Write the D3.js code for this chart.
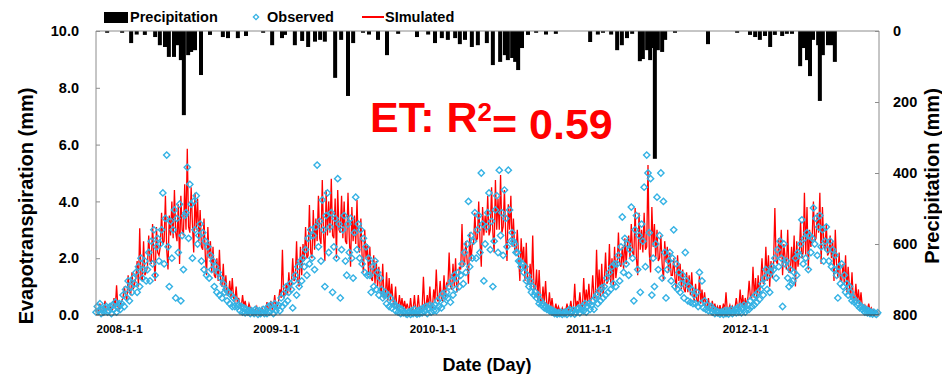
<!DOCTYPE html>
<html>
<head>
<meta charset="utf-8">
<script src="https://cdn.jsdelivr.net/npm/d3@7"></script>
<style>
body { margin: 0; background: #fff; }
svg text { font-family: "Liberation Sans", Arial, sans-serif; font-weight: bold; }
</style>
</head>
<body>
<div id="chart"></div>
<script>
// values, one sample every 3 days from 1 Jan of each year
const years = [2008, 2009, 2010, 2011, 2012];

const sim2008 = [.15,.2,.1,.4,.15,.1,.2,.5,.15,.2, .2,.3,.15,.2,.6,.25,1.05,.3,.2,.4, .5,.6,1.0,.7,.5,1.4,.8,.7,1.5,.9,
  1.1,1.3,1.9,1.0,3.05,1.3,1.2,2.6,1.4,1.5, 1.7,2.8,1.9,1.8,3.2,2.0,1.2,3.1,2.2,2.1, 2.4,3.6,2.5,2.6,4.2,2.3,1.6,3.5,2.8,4.0,
  2.7,4.4,2.9,2.6,3.9,1.8,4.2,3.0,2.8,4.6, 3.0,5.85,3.1,2.9,4.5,3.2,2.2,4.3,3.0,4.1, 2.6,3.7,2.4,2.3,3.4,2.1,1.4,3.1,2.0,2.6,
  1.5,2.4,1.4,1.3,2.0,1.2,2.3,1.1,1.0,1.8, .8,1.4,.7,.7,1.2,.6,1.3,.6,.5,1.0, .4,.6,.35,.3,.7,.3,.5,.25,.2,.4,.25,.2];
const sim2009 = [.15,.1,.2,.3,.1,.15,.1,.25,.15,.1, .2,.45,.2,.25,.5,.2,.3,.7,.25,.3, .5,.9,.6,2.3,.6,.7,1.1,.7,1.5,.8,
  1.1,2.0,1.2,1.3,2.6,1.2,1.0,2.4,1.4,2.5, 1.9,3.1,2.0,2.1,3.87,2.2,2.0,3.7,2.3,3.4, 2.6,4.2,2.7,2.5,4.75,2.8,1.9,4.4,2.8,4.0,
  2.9,4.8,2.8,2.7,4.1,2.0,4.4,3.0,2.9,4.2, 2.7,4.0,2.6,2.5,4.3,2.7,1.7,3.8,2.6,3.5, 2.5,4.05,2.4,2.2,3.4,2.0,1.5,3.0,2.0,2.5,
  1.4,2.4,1.3,1.2,2.1,1.1,1.9,1.0,1.7,1.0, .7,1.8,.6,.6,1.5,.5,1.3,.5,1.1,.5, .3,1.0,.25,.3,.7,.25,.6,.2,.5,.2,.4,.2];
const sim2010 = [.15,.6,.15,.2,.7,.15,.2,.7,.15,.2, .25,1.35,.25,.3,.7,.25,1.0,.3,.25,.9, .5,1.6,.5,.5,1.2,.55,.5,1.4,.6,1.1,
  1.0,2.2,1.0,.9,1.8,1.0,2.0,.8,1.1,1.7, 1.6,3.2,1.7,1.8,2.6,1.9,1.1,2.9,1.9,2.5, 2.5,3.6,2.6,2.7,4.0,2.6,1.7,3.8,2.8,3.5,
  2.9,4.2,2.8,3.0,4.5,2.9,2.2,4.75,3.0,4.1, 3.0,4.93,2.9,3.1,4.4,2.8,1.9,3.9,3.0,4.2, 2.4,3.4,2.3,2.2,3.0,2.1,1.2,2.7,1.9,2.4,
  1.2,2.54,1.1,1.1,1.8,1.0,2.8,.9,.9,1.6, .5,1.58,.5,.4,1.0,.4,1.2,.35,.3,.8, .2,.6,.2,.15,.4,.15,.3,.15,.1,.25,.1,.2];
const sim2011 = [.15,.4,.15,.2,.5,.15,.2,1.1,.2,.5, .3,.8,.3,.3,1.3,.35,.9,.4,1.1,.4, .6,1.4,.6,.6,2.3,.7,1.6,.6,1.8,.7,
  1.2,2.2,1.1,1.2,2.5,1.1,2.0,1.0,2.4,1.3, 1.7,2.9,1.8,1.7,2.4,1.6,2.7,1.8,2.5,2.8, 2.0,3.2,2.2,2.1,3.77,2.0,1.4,3.6,2.3,3.0,
  2.2,3.6,2.3,2.4,5.28,2.2,1.5,3.8,2.4,3.2, 2.0,3.0,1.9,2.0,2.8,1.8,1.2,2.6,1.9,2.4, 1.5,2.2,1.4,1.4,2.0,1.3,.9,2.1,1.2,1.8,
  .9,1.6,.9,.8,1.5,.8,1.4,.7,1.5,.7, .5,1.1,.5,.45,1.4,.4,.9,.35,.8,.3, .25,.6,.2,.2,.5,.2,.4,.15,.3,.15,.35,.15];
const sim2012 = [.15,.4,.15,.8,.15,.2,.35,.15,.3,.15, .25,.6,.25,.25,.9,.3,.7,.25,.6,.3, .6,1.2,.6,.6,1.7,.6,1.3,.5,1.4,.7,
  1.2,2.0,1.1,1.2,2.4,1.2,2.1,1.0,1.9,1.3, 1.8,3.77,1.9,1.8,2.7,2.0,3.0,1.4,2.5,2.0, 1.6,3.0,1.5,1.5,2.4,1.6,2.8,1.0,2.6,1.7,
  2.1,3.3,2.0,2.2,4.3,2.1,3.8,1.6,3.0,2.4, 2.7,4.0,2.6,2.7,3.6,2.9,4.3,1.8,3.8,2.6, 2.3,3.2,2.1,2.2,2.8,2.0,2.6,1.2,3.0,1.8,
  1.3,2.2,1.2,1.2,1.8,1.1,2.1,.8,1.7,1.0, .6,1.5,.5,.5,1.1,.45,.9,.35,.8,.3, .25,.35,.2,.2,.4,.15,.25,.15,.15,.1,.15,.1];

const obs2008 = [.1,.3,.15,.4,.05,.2,.1,.25,.3,.1, .15,.3,.05,.35,.2,.45,.1,.25,.4,.2, .4,.7,.3,.9,.6,1.2,.5,1.0,.8,1.3,
  1.1,1.5,.8,1.7,1.0,2.0,1.3,1.6,1.9,1.2, 1.6,2.2,1.2,2.6,1.8,3.0,1.4,2.4,2.7,1.9, 2.5,3.0,4.3,1.8,3.4,5.63,2.4,1.0,3.3,2.0,
  3.0,3.7,.6,3.4,2.2,3.9,.5,2.8,1.6,3.5, 3.6,5.2,2.7,4.6,3.9,2.0,4.0,3.0,4.2,2.5, 2.8,3.2,1.9,2.9,1.6,2.6,1.4,2.4,1.3,2.1,
  1.6,1.9,1.0,1.7,.8,1.5,.7,1.3,.6,1.1, .8,.9,.5,.8,.4,.7,.3,.6,.3,.5, .3,.35,.15,.3,.1,.25,.08,.2,.1,.15,.05,.15];
const obs2009 = [.1,.05,.2,.15,.02,.15,.05,.1,.2,.05, .15,.05,.3,.1,.35,.2,.05,.4,.15,.3, .35,.15,.6,.3,.75,.4,1.0,.5,.8,1.1,
  .9,.25,1.2,1.4,.7,1.7,1.0,1.9,1.2,2.0, 1.7,2.3,1.4,2.7,1.8,3.0,2.0,2.8,1.6,3.1, 5.28,2.4,3.3,1.9,4.05,3.0,1.0,3.5,4.3,2.2,
  3.1,3.6,.8,2.4,3.4,2.0,4.8,3.2,.6,2.3, 3.0,3.5,1.9,1.4,3.2,2.2,3.4,2.0,1.3,2.9, 4.15,2.3,3.2,2.0,3.0,1.8,2.7,1.5,2.4,1.4,
  2.0,1.4,.8,1.7,1.0,1.9,.9,1.5,.7,1.3, .9,.6,.7,.8,.4,.7,.3,.6,.25,.45, .35,.15,.3,.1,.25,.05,.2,.08,.1,.05,.02,.1];
const obs2010 = [.1,.02,.15,.05,.2,.08,.03,.15,.05,.2, .08,.25,.12,.3,.05,.25,.35,.1,.3,.15, .35,.15,.5,.3,.6,.25,.75,.4,.65,.8,
  .6,1.0,.45,1.2,.7,1.4,.9,1.3,1.5,1.0, 1.4,1.8,1.1,2.2,1.5,2.5,4.0,1.7,2.8,2.0, 2.6,3.6,2.0,3.0,3.5,2.2,5.0,3.2,1.2,2.5,
  3.1,3.6,4.3,2.3,3.3,1.0,2.6,3.7,4.2,2.2, 5.1,2.8,3.6,2.1,4.4,3.4,2.4,5.1,3.7,2.6, 2.9,2.6,2.5,2.2,2.2,1.9,1.9,1.7,1.8,1.5,
  1.7,1.2,1.4,1.0,1.2,.8,1.0,.7,.8,.6, .7,.4,.5,.35,.4,.25,.3,.2,.25,.15, .2,.1,.15,.05,.1,.03,.08,.05,.1,.02,.08,.05];
const obs2011 = [.1,.02,.15,.2,.05,.12,.18,.03,.1,.2, .25,.08,.2,.3,.15,.4,.1,.3,.4,.2, .35,.5,.2,.6,.7,.4,.85,.5,.95,.6,
  1.0,.7,1.3,.8,1.5,.9,1.7,1.1,1.8,1.0, 1.8,2.1,1.2,2.4,3.45,1.5,2.7,1.8,2.5,1.4, 2.3,3.8,2.0,.5,3.0,3.5,1.6,2.8,.8,3.2,
  2.6,4.5,1.7,5.63,5.0,2.9,4.8,.7,2.0,1.0, 2.5,4.15,1.6,2.8,5.0,1.3,4.0,2.2,.6,1.6, 1.9,2.2,1.2,2.0,3.0,1.0,1.8,.9,1.5,.8,
  1.1,1.4,.6,2.2,1.2,.5,1.0,.45,.9,.4, .7,.4,.8,.3,1.5,.4,1.2,.25,.5,.2, .35,.15,.25,.3,.1,.2,.05,.15,.08,.1,.03,.1];
const obs2012 = [.1,.02,.15,.05,.15,.03,.12,.2,.05,.1, .2,.08,.25,.1,.3,.08,.25,.35,.1,.2, .35,.2,.5,.3,.6,.35,.7,.45,.8,.55,
  .9,1.1,.7,1.3,1.6,.9,1.4,.8,1.5,1.7, 1.6,2.0,1.3,2.3,1.7,2.6,2.0,.3,2.5,1.8, 1.9,1.3,1.0,1.6,1.1,1.2,1.5,2.0,1.4,2.2,
  2.1,2.5,3.35,1.8,2.7,2.0,2.9,1.6,2.8,2.2, 2.7,3.77,2.5,3.4,2.1,3.1,3.5,2.4,3.0,1.9, 2.6,3.1,2.3,1.9,2.6,1.7,2.3,1.6,2.1,1.4,
  .6,1.7,1.1,1.8,1.0,1.4,.8,1.1,.7,1.0, .8,.5,.6,.45,.5,.35,.4,.25,.3,.2, .25,.1,.2,.08,.15,.05,.1,.03,.1,.05,.02,.08];

// rain events: day counted from 2008-1-1, depth in mm
const precipDay = [26,61,82,95,114,138,149,161,170,182,191,198,205,215,222,231,245,266,296,308,331,350,
  390,411,434,441,464,481,495,511,523,534,558,572,588,600,623,637,658,679,705,
  749,775,791,807,821,838,849,861,877,891,912,926,943,954,961,971,978,985,994,1008,1027,1050,1073,
  1153,1171,1183,1202,1216,1227,1239,1251,1269,1276,1286,1293,1300,1304,1311,1321,1328,1351,1428,
  1496,1526,1538,1549,1561,1573,1584,1601,1612,1624,1643,1650,1659,1666,1673,1685,1689,1696,1708,1717,1724];
const precipMm = [5,5,34,10,11,17,40,45,73,73,40,82,237,68,59,54,124,11,17,20,20,14,
  5,40,20,11,40,28,45,30,25,30,132,25,183,34,5,10,25,68,8,
  17,10,34,20,25,20,37,25,45,40,34,96,87,68,82,76,87,110,48,11,5,10,8,
  31,10,5,10,54,40,20,8,85,79,54,82,48,360,54,59,25,5,37,
  5,11,17,25,14,45,11,14,8,8,99,48,82,127,25,40,197,68,40,40,87];

const etTicks = [0, 2, 4, 6, 8, 10];
const pTicks = [0, 200, 400, 600, 800];
const dateTicks = ["2008-1-1", "2009-1-1", "2010-1-1", "2011-1-1", "2012-1-1"];

const simulated = [sim2008, sim2009, sim2010, sim2011, sim2012];
const observed = [obs2008, obs2009, obs2010, obs2011, obs2012];

const width = 942, height = 374;
const margin = {top: 31, right: 63, bottom: 59, left: 96};
const start = new Date(2008, 0, 1);

function toSeries(list) {
  const out = [];
  list.forEach((vals, k) => {
    const y0 = new Date(years[k], 0, 1);
    vals.forEach((v, i) => out.push({date: d3.timeDay.offset(y0, i * 3), v: v}));
  });
  return out;
}
const simData = toSeries(simulated);
const obsData = toSeries(observed);
const rain = precipDay.map((d, i) => ({date: d3.timeDay.offset(start, d), mm: precipMm[i]}));

const svg = d3.select("#chart").append("svg")
  .attr("width", width)
  .attr("height", height);

const x = d3.scaleTime()
  .domain([start, new Date(2013, 0, 1)])
  .range([margin.left, width - margin.right]);
const yET = d3.scaleLinear().domain([0, 10]).range([height - margin.bottom, margin.top]);
const yP = d3.scaleLinear().domain([0, 800]).range([margin.top, height - margin.bottom]);

// precipitation bars hanging from the top
svg.append("g").selectAll("rect")
  .data(rain)
  .enter().append("rect")
  .attr("x", d => x(d.date) - 2)
  .attr("y", yP(0))
  .attr("width", 4)
  .attr("height", d => yP(d.mm) - yP(0))
  .attr("fill", "#000");

// simulated ET
const line = d3.line().x(d => x(d.date)).y(d => yET(d.v));
svg.append("path")
  .datum(simData)
  .attr("d", line)
  .attr("fill", "none")
  .attr("stroke", "#ff0000")
  .attr("stroke-width", 1.3);

// observed ET
const diamond = d3.symbol(d3.symbolSquare, 20);
svg.append("g").selectAll("path")
  .data(obsData)
  .enter().append("path")
  .attr("d", diamond)
  .attr("transform", d => `translate(${x(d.date)},${yET(d.v)}) rotate(45)`)
  .attr("fill", "none")
  .attr("stroke", "#35b2e4")
  .attr("stroke-width", 1.4);

// frame
const x0 = margin.left, x1 = width - margin.right, yTop = margin.top, yBot = height - margin.bottom;
svg.append("path")
  .attr("d", `M${x0},${yBot}V${yTop}H${x1}V${yBot}`)
  .attr("fill", "none")
  .attr("stroke", "#8c8c8c");
svg.append("line")
  .attr("x1", x0).attr("x2", x1).attr("y1", yBot).attr("y2", yBot)
  .attr("stroke", "#333");

// axes
const left = svg.append("g")
  .attr("transform", `translate(${x0},0)`)
  .call(d3.axisLeft(yET).tickValues(etTicks).tickFormat(d3.format(".1f")).tickSizeInner(-4).tickSizeOuter(0).tickPadding(17));
const right = svg.append("g")
  .attr("transform", `translate(${x1},0)`)
  .call(d3.axisRight(yP).tickValues(pTicks).tickSizeInner(-4).tickSizeOuter(0).tickPadding(14));
[left, right].forEach(g => {
  g.select(".domain").remove();
  g.selectAll("line").attr("stroke", "#8c8c8c");
  g.selectAll("text").style("font-size", "14.5px").attr("fill", "#000");
});

const bottom = svg.append("g")
  .attr("transform", `translate(0,${yBot})`)
  .call(d3.axisBottom(x)
    .tickValues(dateTicks.map(s => { const p = s.split("-"); return new Date(+p[0], +p[1] - 1, +p[2]); }))
    .tickFormat((d, i) => dateTicks[i])
    .tickSize(0));
bottom.select(".domain").remove();
bottom.selectAll("text")
  .attr("text-anchor", "start")
  .attr("x", 0)
  .attr("y", 10)
  .attr("dy", "0.71em")
  .attr("fill", "#000")
  .style("font-size", "11.5px");

// axis titles
svg.append("text")
  .attr("transform", "translate(33,206) rotate(-90)")
  .attr("text-anchor", "middle")
  .style("font-size", "20px")
  .text("Evapotranspiration (mm)");
svg.append("text")
  .attr("transform", "translate(939,176) rotate(-90)")
  .attr("text-anchor", "middle")
  .style("font-size", "20px")
  .text("Precipitation (mm)");
svg.append("text")
  .attr("x", 487).attr("y", 371)
  .attr("text-anchor", "middle")
  .style("font-size", "18px")
  .text("Date (Day)");

// R2 annotation
const ann = svg.append("text")
  .attr("x", 370).attr("y", 132)
  .attr("fill", "#ff0000")
  .style("font-size", "43px");
ann.append("tspan").text("ET: R");
ann.append("tspan").attr("dy", "-0.42em").style("font-size", "26px").text("2");
ann.append("tspan").attr("dy", "0.42em").text("= 0.59");

// legend
const lg = svg.append("g").style("font-size", "14.5px");
lg.append("rect").attr("x", 104).attr("y", 12).attr("width", 24).attr("height", 11).attr("fill", "#000");
lg.append("text").attr("x", 130).attr("y", 22).text("Precipitation");
lg.append("path").attr("d", d3.symbol(d3.symbolSquare, 14)).attr("transform", "translate(256,17) rotate(45)")
  .attr("fill", "none").attr("stroke", "#35b2e4").attr("stroke-width", 1.3);
lg.append("text").attr("x", 267).attr("y", 22).text("Observed");
lg.append("line").attr("x1", 362).attr("x2", 384).attr("y1", 17).attr("y2", 17)
  .attr("stroke", "#ff0000").attr("stroke-width", 2);
lg.append("text").attr("x", 385).attr("y", 22).text("SImulated");
</script>
</body>
</html>
